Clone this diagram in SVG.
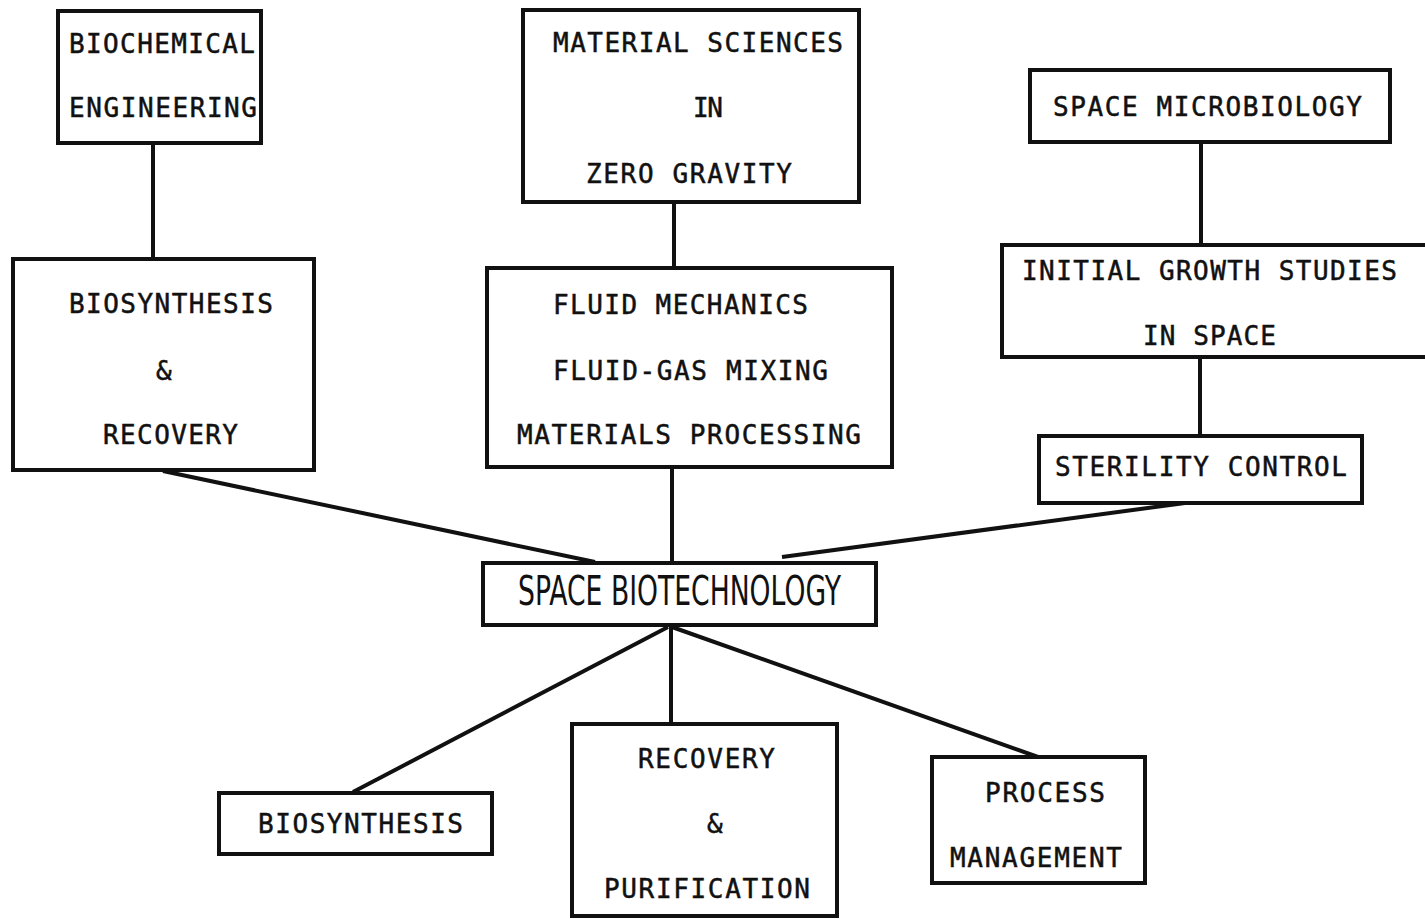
<svg xmlns="http://www.w3.org/2000/svg" width="1425" height="919" viewBox="0 0 1425 919">
<style>
.box{fill:#fff;stroke:#111;stroke-width:4;stroke-linejoin:miter}
.t{font-family:"DejaVu Sans Mono","Liberation Mono",monospace;font-size:26px;fill:#111;stroke:#111;stroke-width:0.5}
.big{font-family:"DejaVu Sans","Liberation Sans",sans-serif;font-size:41px;fill:#111}
.c{stroke:#111;stroke-width:4;fill:none;stroke-linecap:butt}
</style>
<rect width="1425" height="919" fill="#fff"/>
<g id="connectors">
<line class="c" x1="153" y1="143" x2="153" y2="258"/>
<line class="c" x1="674" y1="202" x2="674" y2="268"/>
<line class="c" x1="1201" y1="142" x2="1201" y2="245"/>
<line class="c" x1="1200" y1="357" x2="1200" y2="436"/>
<line class="c" x1="163" y1="471" x2="595" y2="562"/>
<line class="c" x1="672" y1="467" x2="672" y2="563"/>
<line class="c" x1="1185" y1="503" x2="782" y2="557"/>
<line class="c" x1="668" y1="627" x2="353" y2="792"/>
<line class="c" x1="671" y1="627" x2="671" y2="724"/>
<line class="c" x1="672" y1="627" x2="1038" y2="757"/>
</g>
<g id="biochemical-engineering">
<rect class="box" x="58" y="11" width="203" height="132"/>
<text class="t" x="69" y="53" textLength="186">BIOCHEMICAL</text>
<text class="t" x="69" y="117" textLength="188">ENGINEERING</text>
</g>
<g id="biosynthesis-recovery">
<rect class="box" x="13" y="259" width="301" height="211"/>
<text class="t" x="69" y="313" textLength="204">BIOSYNTHESIS</text>
<text class="t" x="156" y="380">&amp;</text>
<text class="t" x="103" y="444" textLength="135">RECOVERY</text>
</g>
<g id="material-sciences">
<rect class="box" x="523" y="10" width="336" height="192"/>
<text class="t" x="553" y="52" textLength="290">MATERIAL SCIENCES</text>
<text class="t" x="693" y="117" textLength="30">IN</text>
<text class="t" x="586" y="183" textLength="206">ZERO GRAVITY</text>
</g>
<g id="fluid-mechanics">
<rect class="box" x="487" y="268" width="405" height="199"/>
<text class="t" x="553" y="314" textLength="255">FLUID MECHANICS</text>
<text class="t" x="553" y="380" textLength="275">FLUID-GAS MIXING</text>
<text class="t" x="517" y="444" textLength="344">MATERIALS PROCESSING</text>
</g>
<g id="space-microbiology">
<rect class="box" x="1030" y="70" width="360" height="72"/>
<text class="t" x="1053" y="116" textLength="309">SPACE MICROBIOLOGY</text>
</g>
<g id="initial-growth">
<rect class="box" x="1002" y="245" width="430" height="112"/>
<text class="t" x="1022" y="280" textLength="375">INITIAL GROWTH STUDIES</text>
<text class="t" x="1143" y="345" textLength="133">IN SPACE</text>
</g>
<g id="sterility-control">
<rect class="box" x="1039" y="436" width="323" height="67"/>
<text class="t" x="1055" y="476" textLength="292">STERILITY CONTROL</text>
</g>
<g id="space-biotechnology">
<rect class="box" x="483" y="563" width="393" height="62"/>
<text class="big" x="518" y="605" textLength="323" lengthAdjust="spacingAndGlyphs">SPACE BIOTECHNOLOGY</text>
</g>
<g id="biosynthesis">
<rect class="box" x="219" y="793" width="273" height="61"/>
<text class="t" x="258" y="833" textLength="205">BIOSYNTHESIS</text>
</g>
<g id="recovery-purification">
<rect class="box" x="572" y="724" width="265" height="192"/>
<text class="t" x="638" y="768" textLength="137">RECOVERY</text>
<text class="t" x="707" y="833">&amp;</text>
<text class="t" x="604" y="898" textLength="206">PURIFICATION</text>
</g>
<g id="process-management">
<rect class="box" x="932" y="757" width="213" height="126"/>
<text class="t" x="985" y="802" textLength="120">PROCESS</text>
<text class="t" x="950" y="867" textLength="172">MANAGEMENT</text>
</g>
</svg>
